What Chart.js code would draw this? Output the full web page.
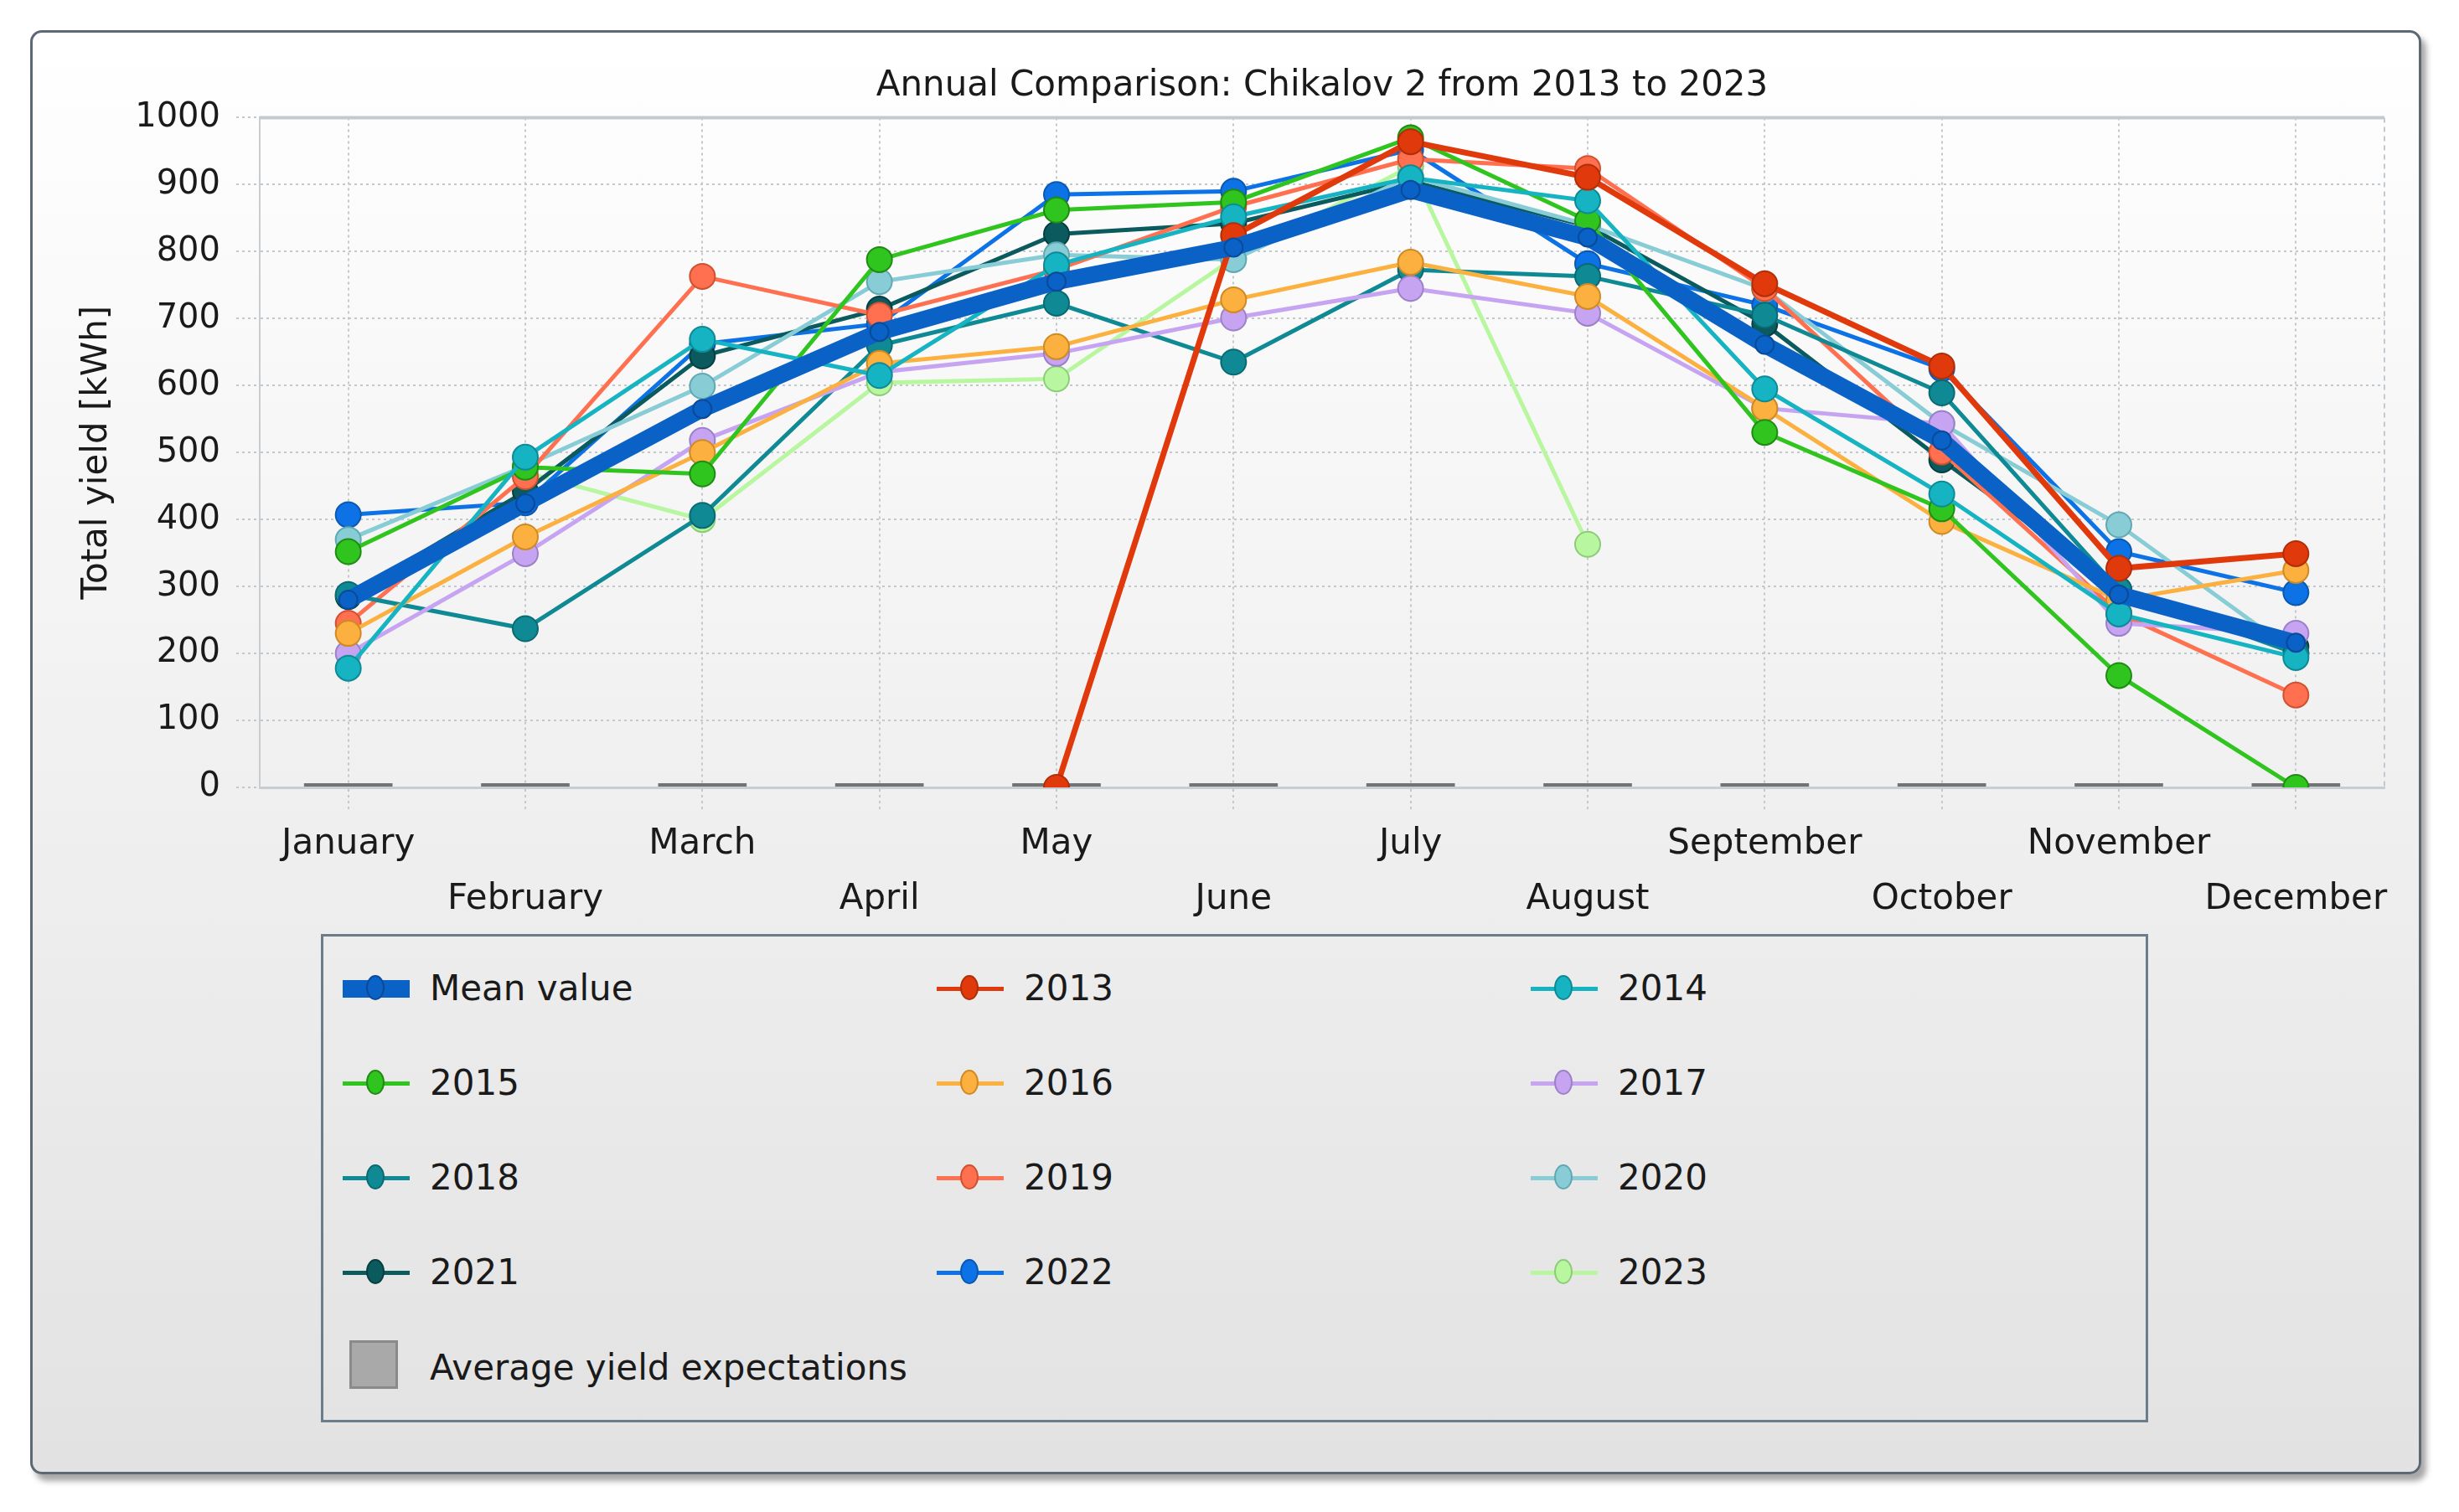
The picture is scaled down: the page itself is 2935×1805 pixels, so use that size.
<!DOCTYPE html>
<html>
<head>
<meta charset="utf-8">
<title>Annual Comparison</title>
<script src="https://cdn.jsdelivr.net/npm/chart.js@4.4.0/dist/chart.umd.min.js"></script>
<style>
  html, body { margin: 0; padding: 0; background: #fff; width: 2935px; height: 1805px; overflow: hidden; font-family: "DejaVu Sans", sans-serif; }
  #frame { position: absolute; left: 36px; top: 36px; width: 2848px; height: 1718px; border: 3px solid #5d6872; border-radius: 14px;
           background: linear-gradient(#ffffff, #e2e2e2); box-shadow: 6px 8px 7px rgba(0,0,0,0.35); }
  #chartBox { position: absolute; left: 0; top: 0; width: 2935px; height: 1110px; }
  #legend { position: absolute; left: 383px; top: 1115px; width: 2175px; height: 577px; border: 3px solid #6c7c8a; }
  .mk { position: absolute; width: 80px; height: 40px; }
  .mk .ln { position: absolute; left: 0; width: 80px; }
  .mk .dot { position: absolute; left: 28px; width: 22px; height: 30px; border-radius: 50%; box-sizing: border-box; border: 2px solid; }
  .txt { position: absolute; font-size: 42px; line-height: 42px; color: #1a1a1a; white-space: nowrap; }
  .sq { position: absolute; width: 58px; height: 58px; background: #a9a9a9; border: 3px solid #8a8a8a; box-sizing: border-box; }
</style>
</head>
<body>
<div id="frame"></div>
<div id="chartBox"><canvas id="yieldChart"></canvas></div>
<div id="legend"></div>
<script>
const months = ['January', 'February', 'March', 'April', 'May', 'June', 'July', 'August', 'September', 'October', 'November', 'December'];

const meanValues = [280, 424, 565, 680, 755, 806, 892, 821, 661, 518, 288, 216];
const y2013 = [null, null, null, null, 0, 824, 964, 911, 752, 629, 327, 349];
const y2014 = [178, 493, 669, 615, 780, 852, 910, 876, 595, 438, 259, 194];
const y2015 = [352, 478, 468, 788, 862, 874, 970, 846, 530, 416, 167, 0];
const y2016 = [230, 374, 500, 633, 658, 728, 784, 733, 566, 397, 280, 324];
const y2017 = [200, 349, 518, 620, 648, 701, 745, 708, 566, 543, 245, 230];
const y2018 = [288, 237, 406, 660, 723, 635, 773, 763, 705, 589, 295, 200];
const y2019 = [245, 464, 763, 705, 773, 867, 938, 924, 745, 501, 260, 138];
const y2020 = [370, 480, 599, 755, 795, 788, 912, 840, 744, 543, 392, 200];
const y2021 = [285, 442, 644, 714, 826, 842, 905, 838, 692, 489, 295, 210];
const y2022 = [407, 425, 662, 692, 885, 890, 952, 782, 720, 625, 352, 291];
const y2023 = [null, 470, 400, 604, 610, 790, 927, 363, null, null, null, null];
const expectation = [0, 0, 0, 0, 0, 0, 0, 0, 0, 0, 0, 0];

const yTicks = [0, 100, 200, 300, 400, 500, 600, 700, 800, 900, 1000];

const seriesNames = ['Mean value', '2013', '2014', '2015', '2016', '2017', '2018', '2019', '2020', '2021', '2022', '2023'];
const seriesValues = [meanValues, y2013, y2014, y2015, y2016, y2017, y2018, y2019, y2020, y2021, y2022, y2023];

// line colour, point border colour
const lineColors = ['#0b62c6', '#e03a0c', '#16b3c2', '#30c41e', '#fbb040', '#c6a4f2', '#0f8a94', '#ff7050', '#88ccd6', '#0b5a5e', '#0c72e6', '#b8f7a0'];
const edgeColors = ['#0a4a9a', '#b02e08', '#0e8a96', '#1f8a14', '#cf8a22', '#9c80c8', '#0a6a72', '#d05030', '#60a8b2', '#073e40', '#0a58b0', '#8ccc78'];

const datasets = seriesValues.map(function(vals, i) {
    const isMean = i === 0;
    return {
        type: 'line',
        label: seriesNames[i],
        data: vals,
        borderColor: lineColors[i],
        backgroundColor: lineColors[i],
        pointBackgroundColor: lineColors[i],
        pointBorderColor: edgeColors[i],
        pointBorderWidth: 2,
        pointRadius: isMean ? 11 : 15,
        borderWidth: isMean ? 20 : (i === 1 ? 7 : 5),
        tension: 0,
        spanGaps: false,
        order: 0
    };
});

datasets.push({
    type: 'bar',
    label: 'Average yield expectations',
    data: expectation,
    backgroundColor: '#737373',
    minBarLength: 5,
    barPercentage: 0.5,
    categoryPercentage: 1,
    order: 1
});

const plotTopLine = {
    id: 'plotTopLine',
    beforeDatasetsDraw(chart) {
        const a = chart.chartArea, ctx = chart.ctx;
        ctx.save();
        ctx.strokeStyle = '#c2c9cf';
        ctx.lineWidth = 4;
        ctx.beginPath();
        ctx.moveTo(a.left, a.top);
        ctx.lineTo(a.right, a.top);
        ctx.stroke();
        ctx.lineWidth = 2;
        ctx.setLineDash([6, 5]);
        ctx.beginPath();
        ctx.moveTo(a.right, a.top);
        ctx.lineTo(a.right, a.bottom);
        ctx.stroke();
        ctx.restore();
    }
};

Chart.defaults.font.family = '"DejaVu Sans", sans-serif';
Chart.defaults.color = '#1a1a1a';

const ctx = document.getElementById('yieldChart').getContext('2d');
const yieldChart = new Chart(ctx, {
    data: {
        labels: months.map((m, i) => i % 2 === 0 ? [m, ''] : ['', m]),
        datasets: datasets
    },
    options: {
        responsive: true,
        maintainAspectRatio: false,
        devicePixelRatio: 1,
        animation: false,
        layout: { padding: { left: 0, right: 89, top: 0, bottom: 0 } },
        plugins: {
            legend: { display: false },
            tooltip: { enabled: false },
            title: {
                display: true,
                fullSize: false,
                text: 'Annual Comparison: Chikalov 2 from 2013 to 2023',
                color: '#1a1a1a',
                font: { size: 42, weight: 'normal' },
                padding: { top: 78, bottom: 12 }
            }
        },
        scales: {
            x: {
                offset: true,
                grid: { offset: false, color: '#c3c8cd', lineWidth: 2, tickLength: 28, tickBorderDash: [3, 4], tickColor: '#c3c8cd' },
                border: { display: true, color: '#c8cdd2', width: 3, dash: [3, 4] },
                ticks: { autoSkip: false, maxRotation: 0, minRotation: 0, padding: 7, font: { size: 42, lineHeight: 1.57 } },
                afterFit(s) { s.height = 1110 - 940; }
            },
            y: {
                min: 0,
                max: 1000,
                afterBuildTicks(s) { s.ticks = yTicks.map(v => ({ value: v })); },
                grid: { color: '#c3c8cd', lineWidth: 2, tickLength: 28, tickBorderDash: [3, 4], tickColor: '#c3c8cd' },
                border: { display: true, color: '#c8cdd2', width: 2, dash: [3, 4] },
                ticks: { padding: 19, font: { size: 40 }, callback: v => String(v) },
                title: { display: true, text: 'Total yield [kWh]', font: { size: 42 }, padding: { top: 91, bottom: 0 }, color: '#1a1a1a' },
                afterFit(s) { s.width = 310; }
            }
        }
    },
    plugins: [plotTopLine]
});

// legend: three columns, series first, then the expectation bar entry
const legendBox = document.getElementById('legend');
seriesNames.forEach(function(name, i) {
    const col = i % 3, row = Math.floor(i / 3);
    const cx = 23 + col * 709, cy = 62 + row * 113;
    const mk = document.createElement('div');
    mk.className = 'mk';
    mk.style.left = cx + 'px';
    mk.style.top = (cy - 20) + 'px';
    const thick = i === 0 ? 21 : 5;
    mk.innerHTML = '<div class="ln" style="top:' + (20 - thick / 2) + 'px;height:' + thick + 'px;background:' + lineColors[i] + '"></div>' +
        '<div class="dot" style="top:4px;background:' + lineColors[i] + ';border-color:' + edgeColors[i] + '"></div>';
    legendBox.appendChild(mk);
    const t = document.createElement('div');
    t.className = 'txt';
    t.style.left = (127 + col * 709) + 'px';
    t.style.top = (cy - 21) + 'px';
    t.textContent = name;
    legendBox.appendChild(t);
});
const sq = document.createElement('div');
sq.className = 'sq';
sq.style.left = '31px';
sq.style.top = '482px';
legendBox.appendChild(sq);
const st = document.createElement('div');
st.className = 'txt';
st.style.left = '127px';
st.style.top = '494px';
st.textContent = 'Average yield expectations';
legendBox.appendChild(st);
</script>
</body>
</html>
